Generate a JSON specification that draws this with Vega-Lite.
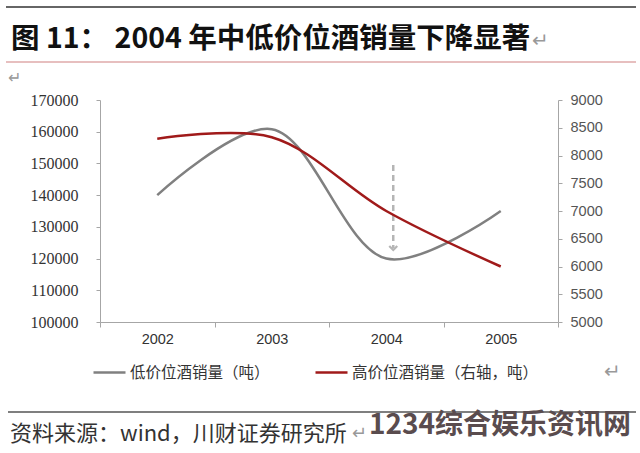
{
  "$schema": "https://vega.github.io/schema/vega-lite/v6.json",
  "width": 458,
  "height": 222,
  "autosize": {"type": "none"},
  "padding": {"left": 100, "top": 100, "right": 82, "bottom": 131},
  "background": "white",
  "config": {"view": {"stroke": null}, "font": "Noto Sans CJK SC"},
  "datasets": {
    "sales": [
      {"year": "2002", "series": "低价位酒销量（吨）", "value": 140000},
      {"year": "2003", "series": "低价位酒销量（吨）", "value": 160800},
      {"year": "2004", "series": "低价位酒销量（吨）", "value": 120000},
      {"year": "2005", "series": "低价位酒销量（吨）", "value": 135000},
      {"year": "2002", "series": "高价位酒销量（右轴，吨）", "value": 8300},
      {"year": "2003", "series": "高价位酒销量（右轴，吨）", "value": 8330},
      {"year": "2004", "series": "高价位酒销量（右轴，吨）", "value": 7000},
      {"year": "2005", "series": "高价位酒销量（右轴，吨）", "value": 6000}
    ],
    "arrow": [
      {"year": "2004", "from": 149500, "to": 123300, "tip": 122700}
    ],
    "one": [{}]
  },
  "layer": [
    {
      "data": {"name": "sales"},
      "transform": [{"filter": "datum.series === '低价位酒销量（吨）'"}],
      "encoding": {
        "x": {
          "field": "year", "type": "ordinal", "bandPosition": 0.5,
          "scale": {"type": "band", "paddingInner": 0, "paddingOuter": 0},
          "axis": {"title": null, "labelAngle": 0, "tickBand": "extent", "tickSize": 5, "labelPadding": 5,
                   "domainColor": "#a6a6a6", "tickColor": "#a6a6a6", "labelFont": "Liberation Sans",
                   "labelFontSize": 14.5, "labelColor": "#333333"}
        },
        "y": {
          "field": "value", "type": "quantitative",
          "scale": {"domain": [100000, 170000], "nice": false, "zero": false},
          "axis": {"title": null, "values": [100000, 110000, 120000, 130000, 140000, 150000, 160000, 170000],
                   "format": "d", "grid": false, "tickSize": 4, "labelPadding": 18,
                   "domainColor": "#a6a6a6", "tickColor": "#a6a6a6", "labelFont": "Liberation Serif",
                   "labelFontSize": 16, "labelColor": "#333333"}
        }
      },
      "layer": [
        {
          "mark": {"type": "line", "interpolate": "catmull-rom", "strokeWidth": 2.5},
          "encoding": {
            "color": {
              "field": "series", "type": "nominal",
              "scale": {"domain": ["低价位酒销量（吨）", "高价位酒销量（右轴，吨）"], "range": ["#808080", "#a01a1a"]},
              "legend": {"orient": "none", "legendX": -8, "legendY": 255, "direction": "horizontal", "title": null,
                         "symbolType": "stroke", "symbolSize": 1024, "symbolStrokeWidth": 2.5,
                         "labelFont": "Noto Sans CJK SC", "labelFontSize": 15.5, "labelColor": "#333333",
                         "labelOffset": 3, "columnPadding": 40, "labelLimit": 400}
            }
          }
        },
        {
          "data": {"name": "arrow"},
          "mark": {"type": "rule", "color": "#b5b5b5", "strokeWidth": 2.5, "strokeDash": [6, 4], "xOffset": 7},
          "encoding": {
            "x": {"field": "year", "type": "ordinal", "bandPosition": 0.5},
            "y": {"field": "from", "type": "quantitative"},
            "y2": {"field": "to"}
          }
        },
        {
          "data": {"name": "arrow"},
          "mark": {"type": "point", "shape": "M-1,-1L0,0L1,-1", "filled": false, "stroke": "#b5b5b5", "strokeWidth": 2.2, "size": 64, "xOffset": 7, "opacity": 1},
          "encoding": {
            "x": {"field": "year", "type": "ordinal", "bandPosition": 0.5},
            "y": {"field": "tip", "type": "quantitative"}
          }
        }
      ]
    },
    {
      "data": {"name": "sales"},
      "transform": [{"filter": "datum.series === '高价位酒销量（右轴，吨）'"}],
      "mark": {"type": "line", "interpolate": "catmull-rom", "strokeWidth": 2.5},
      "encoding": {
        "x": {
          "field": "year", "type": "ordinal", "bandPosition": 0.5,
          "scale": {"type": "band", "paddingInner": 0, "paddingOuter": 0},
          "axis": {"title": null, "labelAngle": 0, "tickBand": "extent", "tickSize": 5, "labelPadding": 5,
                   "domainColor": "#a6a6a6", "tickColor": "#a6a6a6", "labelFont": "Liberation Sans",
                   "labelFontSize": 14.5, "labelColor": "#333333"}
        },
        "y": {
          "field": "value", "type": "quantitative",
          "scale": {"domain": [5000, 9000], "nice": false, "zero": false},
          "axis": {"orient": "right", "title": null, "values": [5000, 5500, 6000, 6500, 7000, 7500, 8000, 8500, 9000],
                   "format": "d", "grid": false, "tickSize": 4, "labelPadding": 8,
                   "domainColor": "#a6a6a6", "tickColor": "#a6a6a6", "labelFont": "Liberation Sans",
                   "labelFontSize": 14.5, "labelColor": "#555555"}
        },
        "color": {"field": "series", "type": "nominal"}
      }
    },
    {
      "data": {"name": "one"},
      "layer": [
        {"mark": {"type": "rule", "color": "#333333", "strokeWidth": 1.5},
         "encoding": {"x": {"value": -94}, "x2": {"value": 536}, "y": {"value": -93}}},
        {"mark": {"type": "rule", "color": "#d08080", "strokeWidth": 1.2},
         "encoding": {"x": {"value": -94}, "x2": {"value": 536}, "y": {"value": -38}}},
        {"mark": {"type": "text", "text": "图 11：  2004 年中低价位酒销量下降显著", "fontSize": 28.5, "fontWeight": "bold",
                  "font": "Noto Sans CJK SC", "align": "left", "baseline": "middle", "color": "#111111"},
         "encoding": {"x": {"value": -89}, "y": {"value": -61}}},
        {"mark": {"type": "text", "text": "↵", "fontSize": 20, "align": "left", "baseline": "middle", "color": "#999999"},
         "encoding": {"x": {"value": 432}, "y": {"value": -59}}},
        {"mark": {"type": "text", "text": "↵", "fontSize": 16, "align": "left", "baseline": "middle", "color": "#999999"},
         "encoding": {"x": {"value": -92}, "y": {"value": -22}}},
        {"mark": {"type": "text", "text": "↵", "fontSize": 20, "align": "left", "baseline": "middle", "color": "#999999"},
         "encoding": {"x": {"value": 504}, "y": {"value": 272}}},
        {"mark": {"type": "rule", "color": "#555555", "strokeWidth": 1.5},
         "encoding": {"x": {"value": -92}, "x2": {"value": 536}, "y": {"value": 312}}},
        {"mark": {"type": "text", "text": "资料来源：wind，川财证券研究所", "fontSize": 22, "font": "Noto Sans CJK SC",
                  "align": "left", "baseline": "middle", "color": "#333333"},
         "encoding": {"x": {"value": -90}, "y": {"value": 334}}},
        {"mark": {"type": "text", "text": "↵", "fontSize": 18, "align": "left", "baseline": "middle", "color": "#999999"},
         "encoding": {"x": {"value": 252}, "y": {"value": 334}}},
        {"mark": {"type": "text", "text": "1234综合娱乐资讯网", "fontSize": 28, "fontWeight": "bold", "font": "Noto Sans CJK SC",
                  "align": "left", "baseline": "middle", "color": "#5a4c4e"},
         "encoding": {"x": {"value": 269}, "y": {"value": 326}}}
      ]
    }
  ],
  "resolve": {"scale": {"y": "independent"}}
}
